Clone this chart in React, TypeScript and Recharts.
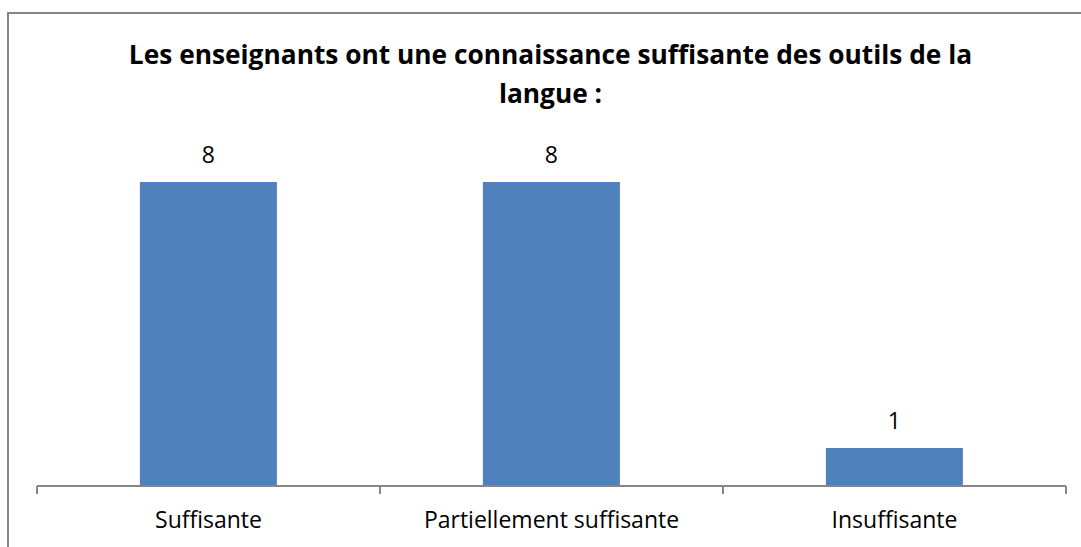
import React from "react";
import { BarChart, Bar, XAxis, YAxis, LabelList } from "recharts";

const categories = ["Suffisante", "Partiellement suffisante", "Insuffisante"];
const counts = [8, 8, 1];
const titleLines = [
  "Les enseignants ont une connaissance suffisante des outils de la",
  "langue :",
];

const data = categories.map((name, i) => ({ name, value: counts[i] }));

const FONT = "'Open Sans', Lato, sans-serif";
const GRID = "#868686";

// category label plus tick marks on the category boundaries (Excel style)
const CategoryTick = (props: any) => {
  const { x, y, payload, index, visibleTicksCount, width } = props;
  const half =
    payload && typeof payload.offset === "number" && payload.offset > 0
      ? payload.offset
      : width / visibleTicksCount / 2;
  const isLast = index === visibleTicksCount - 1;
  return (
    <g>
      <line x1={x - half} y1={y} x2={x - half} y2={y + 8} stroke={GRID} strokeWidth={2} />
      {isLast && (
        <line x1={x + half} y1={y} x2={x + half} y2={y + 8} stroke={GRID} strokeWidth={2} />
      )}
      <text x={x} y={y + 42} textAnchor="middle" fill="#000" fontSize={23} fontFamily={FONT}>
        {payload.value}
      </text>
    </g>
  );
};

export default function App() {
  return (
    <div
      style={{
        position: "absolute",
        left: 0,
        top: 0,
        width: 1081,
        height: 547,
        overflow: "hidden",
        background: "#fff",
        fontFamily: FONT,
      }}
    >
      {/* chart frame */}
      <div
        style={{
          position: "absolute",
          left: 7,
          top: 12,
          width: 1200,
          height: 700,
          border: `2px solid ${GRID}`,
          boxSizing: "border-box",
        }}
      />
      <div
        style={{
          position: "absolute",
          left: 10,
          top: 35,
          width: 1081,
          textAlign: "center",
          fontWeight: "bold",
          fontSize: 26.3,
          lineHeight: "39px",
          color: "#000",
        }}
      >
        {titleLines.map((t) => (
          <div key={t}>{t}</div>
        ))}
      </div>
      <div style={{ position: "absolute", left: 0, top: 0 }}>
        <BarChart
          width={1081}
          height={547}
          data={data}
          margin={{ top: 144, right: 15, bottom: 21, left: 37 }}
          barCategoryGap="30%"
        >
          <XAxis
            dataKey="name"
            height={40}
            axisLine={{ stroke: GRID, strokeWidth: 2 }}
            tickLine={false}
            tickSize={0}
            tickMargin={0}
            tick={CategoryTick}
            interval={0}
          />
          <YAxis hide domain={[0, 9]} />
          <Bar dataKey="value" fill="#4F81BD" isAnimationActive={false}>
            <LabelList
              dataKey="value"
              position="top"
              offset={19}
              fill="#000"
              fontSize={23}
              fontFamily={FONT}
            />
          </Bar>
        </BarChart>
      </div>
    </div>
  );
}
